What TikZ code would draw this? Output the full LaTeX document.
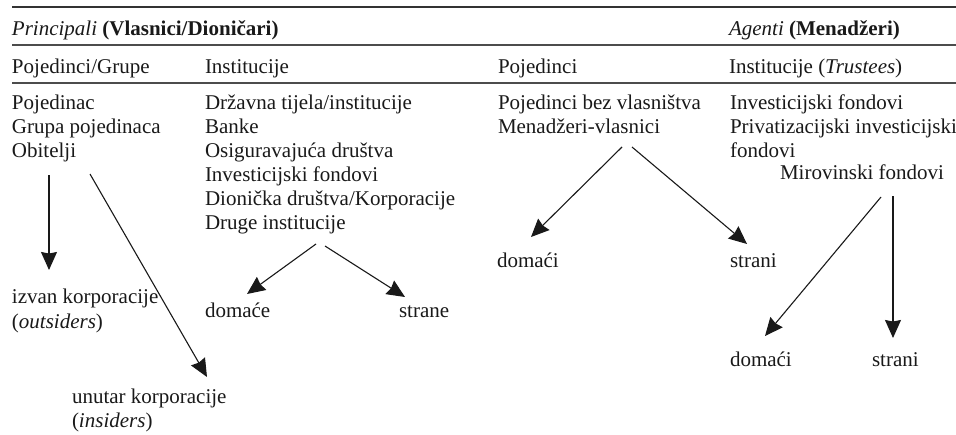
\documentclass[tikz,border=0pt]{standalone}
\usepackage{fontspec}
\setmainfont{Liberation Serif}
\usetikzlibrary{arrows.meta}
\tikzset{
  txt/.style={anchor=base west, inner sep=0pt, outer sep=0pt, font=\fontsize{21}{24}\selectfont, text=black!90},
  rulethick/.style={line width=1.5pt, draw=black!80},
  rulethin/.style={line width=1.3pt, draw=black!70},
  arr/.style={line width=1.1pt, draw=black!90, -{Stealth[length=18pt, width=16pt, inset=1.5pt]}}
}
\begin{document}
\begin{tikzpicture}[x=1pt,y=-1pt]
\useasboundingbox (0,0) rectangle (956,434);
% rules
\coordinate (r1a) at (12,7);  \coordinate (r1b) at (956,7);
\coordinate (r2a) at (12,45); \coordinate (r2b) at (956,45);
\coordinate (r3a) at (12,83); \coordinate (r3b) at (956,83);
\draw[rulethick] (r1a) -- (r1b);
\draw[rulethin] (r2a) -- (r2b);
\draw[rulethin] (r3a) -- (r3b);
% headers
\node[txt] (h1) at (12,35) {\textit{Principali} \textbf{(Vlasnici/Dioničari)}};
\node[txt] (h2) at (729,35) {\textit{Agenti} \textbf{(Menadžeri)}};
\node[txt] (c1) at (12,73) {Pojedinci/Grupe};
\node[txt] (c2) at (205,73) {Institucije};
\node[txt] (c3) at (498,73) {Pojedinci};
\node[txt] (c4) at (729,73) {Institucije (\textit{Trustees})};
% column 1
\node[txt] (p1) at (12,109) {Pojedinac};
\node[txt] (p2) at (12,133) {Grupa pojedinaca};
\node[txt] (p3) at (12,157) {Obitelji};
% column 2
\node[txt] (i1) at (205,109) {Državna tijela/institucije};
\node[txt] (i2) at (205,133) {Banke};
\node[txt] (i3) at (205,157) {Osiguravajuća društva};
\node[txt] (i4) at (205,181) {Investicijski fondovi};
\node[txt] (i5) at (205,205) {Dionička društva/Korporacije};
\node[txt] (i6) at (205,229) {Druge institucije};
% column 3
\node[txt] (m1) at (498,109) {Pojedinci bez vlasništva};
\node[txt] (m2) at (498,133) {Menadžeri-vlasnici};
% column 4
\node[txt] (t1) at (730,109) {Investicijski fondovi};
\node[txt] (t2) at (730,133) {Privatizacijski investicijski};
\node[txt] (t3) at (730,157) {fondovi};
\node[txt] (t4) at (780,179) {Mirovinski fondovi};
% targets
\node[txt] (out1) at (12,303) {izvan korporacije};
\node[txt] (out2) at (12,328) {(\textit{outsiders})};
\node[txt] (in1) at (72,403) {unutar korporacije};
\node[txt] (in2) at (72,427) {(\textit{insiders})};
\node[txt] (dom1) at (205,317) {domaće};
\node[txt] (str1) at (399,317) {strane};
\node[txt] (dom2) at (497,267) {domaći};
\node[txt] (str2) at (730,267) {strani};
\node[txt] (dom3) at (730,366) {domaći};
\node[txt] (str3) at (872,366) {strani};
% arrow end points
\coordinate (a1s) at (49,175);  \coordinate (a1e) at (49,270);
\coordinate (a2s) at (90,174);  \coordinate (a2e) at (207,377);
\coordinate (a3s) at (316,244); \coordinate (a3e) at (247,294);
\coordinate (a4s) at (325,246); \coordinate (a4e) at (405,297);
\coordinate (a5s) at (622,147); \coordinate (a5e) at (531,237);
\coordinate (a6s) at (632,147); \coordinate (a6e) at (747,244);
\coordinate (a7s) at (881,197); \coordinate (a7e) at (765,336);
\coordinate (a8s) at (893,196); \coordinate (a8e) at (893,338);
\draw[arr] (a1s) -- (a1e);
\draw[arr] (a2s) -- (a2e);
\draw[arr] (a3s) -- (a3e);
\draw[arr] (a4s) -- (a4e);
\draw[arr] (a5s) -- (a5e);
\draw[arr] (a6s) -- (a6e);
\draw[arr] (a7s) -- (a7e);
\draw[arr] (a8s) -- (a8e);
\end{tikzpicture}
\end{document}
